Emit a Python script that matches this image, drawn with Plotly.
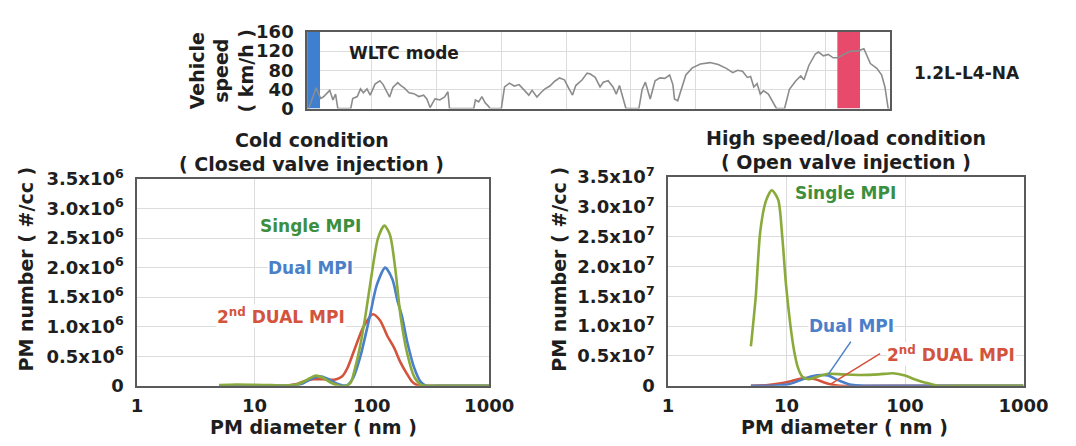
import plotly.graph_objects as go

# ---------------- WLTC vehicle speed trace ----------------
time_s = [0, 5, 28, 42, 50, 70, 80, 88, 95,
          135, 141, 155, 165, 174, 185, 195, 210, 225, 235, 245, 255, 265, 280, 290, 300,
          315, 330, 345, 360, 370, 380, 395, 410, 425, 435, 440,
          515, 520, 530, 540, 550, 560, 565,
          600, 610, 625, 640, 655, 670, 685, 695, 710, 725, 735, 750, 765, 780, 795,
          810, 820, 830, 850, 865, 875, 890, 905, 915, 930, 945, 955, 965, 975, 985,
          1025, 1035, 1045, 1060, 1075, 1090, 1105, 1120, 1130, 1135, 1145, 1155, 1170,
          1190, 1215, 1245, 1270, 1295, 1315, 1330, 1345, 1360, 1370, 1380, 1390, 1400,
          1410, 1425, 1435, 1445, 1450,
          1475, 1490, 1510, 1525, 1535, 1550, 1570, 1580, 1595, 1610, 1625, 1640, 1660,
          1680, 1700, 1720, 1740, 1760, 1775, 1785, 1795, 1800]
speed_kmh = [0, 0, 43, 21, 24, 38, 18, 30, 0,
             0, 21, 25, 41, 33, 41, 28, 51, 58, 50, 38, 24, 44, 54, 48, 43,
             33, 31, 25, 28, 20, 2, 20, 18, 24, 35, 0,
             0, 18, 14, 25, 12, 5, 0,
             0, 45, 53, 47, 50, 38, 28, 38, 24, 35, 41, 47, 57, 64, 60,
             40, 28, 48, 60, 74, 72, 65, 45, 55, 58, 45, 30, 48, 25, 0,
             0, 40, 55, 20, 58, 64, 63, 70, 50, 20, 16, 38, 70,
             85, 93, 96, 92, 84, 75, 80, 78, 65, 67, 45, 52, 30,
             37, 30, 18, 8, 0,
             0, 40, 58, 68, 60, 90, 114, 118, 110, 113, 106, 106, 114,
             120, 120, 125, 94, 84, 70, 45, 0, 0]
speed_ticks = [0, 40, 80, 120, 160]
cold_window_s = [0, 40]
hot_window_s = [1638, 1708]

# ---------------- PM size distributions: cold start (x10^6 #/cc) ----------------
cold_single_d = [5, 7, 10, 14, 18, 23, 28, 33, 38, 45, 52, 60, 66, 72, 80, 88, 100,
                 113, 128, 143, 158, 176, 200, 230, 260, 285, 400, 1000]
cold_single_n = [0.01, 0.02, 0.015, 0.01, 0.005, 0.02, 0.1, 0.17, 0.14, 0.05, 0.005, 0.0,
                 0.05, 0.3, 0.7, 1.17, 1.9, 2.5, 2.71, 2.55, 2.0, 1.17, 0.55, 0.15, 0.02,
                 0.0, 0.0, 0.0]
cold_dual_d = [5, 10, 15, 20, 25, 30, 36, 42, 50, 57, 62, 70, 80, 96, 110, 130, 150,
               165, 181, 200, 230, 260, 290, 400, 1000]
cold_dual_n = [0.0, 0.0, 0.0, 0.005, 0.03, 0.11, 0.16, 0.12, 0.04, 0.005, 0.01, 0.15,
               0.5, 1.17, 1.7, 2.0, 1.8, 1.45, 1.17, 0.75, 0.3, 0.07, 0.0, 0.0, 0.0]
cold_2nd_d = [5, 10, 15, 19, 23, 28, 32, 38, 44, 50, 56, 62, 72, 85, 102, 118, 135,
              155, 175, 198, 220, 245, 270, 500, 1000]
cold_2nd_n = [0.0, 0.0, 0.0, 0.005, 0.03, 0.09, 0.11, 0.11, 0.1, 0.11, 0.16, 0.3, 0.64,
              1.0, 1.21, 1.1, 0.85, 0.64, 0.4, 0.21, 0.07, 0.01, 0.0, 0.0, 0.0]

# ---------------- PM size distributions: high speed/load (x10^7 #/cc) ----------------
hot_single_d = [5, 5.5, 6.0, 6.7, 7.5, 8.5, 9.2, 9.9, 10.8, 11.6, 12.5, 13.6, 15.4, 18,
                22.5, 30, 42, 60, 79, 100, 120, 149, 190, 300, 1000]
hot_single_n = [0.66, 1.5, 2.59, 3.1, 3.28, 3.12, 2.5, 1.69, 1.0, 0.58, 0.3, 0.15, 0.11,
                0.15, 0.2, 0.19, 0.18, 0.19, 0.21, 0.17, 0.11, 0.05, 0.0, 0.0, 0.0]
hot_dual_d = [5, 8, 10.6, 13, 16.4, 20, 22.5, 26, 29, 33, 37, 45, 100, 1000]
hot_dual_n = [0.0, 0.005, 0.03, 0.09, 0.16, 0.18, 0.17, 0.11, 0.07, 0.03, 0.01, 0.0,
              0.0, 0.0]
hot_2nd_d = [5, 7, 9, 10.6, 12.5, 14.5, 17.5, 20.5, 24, 28, 100, 1000]
hot_2nd_n = [0.0, 0.01, 0.04, 0.07, 0.11, 0.13, 0.11, 0.06, 0.02, 0.0, 0.0, 0.0]

diam_ticks = [1, 10, 100, 1000]
pm_ticks = [0, 0.5, 1.0, 1.5, 2.0, 2.5, 3.0, 3.5]

GREEN = "#8aab3c"
GREEN_TXT = "#3d8f3f"
BLUE = "#4b80c9"
RED = "#d4533d"
GRID = "#dcdcdc"
AXIS = "#5a5a5a"
INK = "#1e1e1e"
FONT = "DejaVu Sans"

W, H = 1076, 446


def px(x):
    return x / W


def py(y):
    return 1 - y / H


def pm_ticktext(exp):
    out = []
    for v in pm_ticks:
        out.append("0" if v == 0 else f"{v:.1f}x10<sup>{exp}</sup>")
    return out


fig = go.Figure()

# speed trace
fig.add_trace(go.Scatter(x=time_s, y=speed_kmh, mode="lines",
                         line=dict(color="#8c8c8c", width=1.6),
                         xaxis="x", yaxis="y", hoverinfo="skip"))

# cold-start distributions
for d, n, c in [(cold_2nd_d, cold_2nd_n, RED), (cold_dual_d, cold_dual_n, BLUE),
                (cold_single_d, cold_single_n, GREEN)]:
    fig.add_trace(go.Scatter(x=d, y=n, mode="lines",
                             line=dict(color=c, width=2.6, shape="spline", smoothing=0.7),
                             xaxis="x2", yaxis="y2"))

# high speed/load distributions
for d, n, c in [(hot_2nd_d, hot_2nd_n, RED), (hot_dual_d, hot_dual_n, BLUE),
                (hot_single_d, hot_single_n, GREEN)]:
    fig.add_trace(go.Scatter(x=d, y=n, mode="lines",
                             line=dict(color=c, width=2.6, shape="spline", smoothing=0.7),
                             xaxis="x3", yaxis="y3"))

# leader lines from the labels to the small modes
fig.add_trace(go.Scatter(x=[34.9, 22.5], y=[0.74, 0.19], mode="lines",
                         line=dict(color=BLUE, width=1.5), xaxis="x3", yaxis="y3"))
fig.add_trace(go.Scatter(x=[61.5, 23.2], y=[0.54, 0.02], mode="lines",
                         line=dict(color=RED, width=1.5), xaxis="x3", yaxis="y3"))

axis_common = dict(showgrid=True, gridcolor=GRID, gridwidth=1, showline=True,
                   linecolor=AXIS, linewidth=1.6, mirror=True, zeroline=False,
                   ticks="", fixedrange=True)

fig.update_layout(
    width=W, height=H,
    margin=dict(l=0, r=0, t=0, b=0),
    paper_bgcolor="white", plot_bgcolor="white",
    showlegend=False,
    font=dict(family=FONT, size=18, color=INK, weight="bold"),
    xaxis=dict(domain=[px(310), px(910)], range=[0, 1800], anchor="y",
               tickvals=list(range(0, 1801, 200)), showticklabels=False, **axis_common),
    yaxis=dict(domain=[py(100.7), py(20)], range=[0, 160], anchor="x",
               tickvals=speed_ticks, ticklabelstandoff=8, **axis_common),
    xaxis2=dict(domain=[px(135), px(497.5)], type="log", range=[0, 3], anchor="y2",
                tickvals=diam_ticks, ticktext=[str(v) for v in diam_ticks],
                ticklabelstandoff=3, **axis_common),
    yaxis2=dict(domain=[py(393), py(175)], range=[0, 3.5], anchor="x2",
                tickvals=pm_ticks, ticktext=pm_ticktext(6), ticklabelstandoff=8,
                **axis_common),
    xaxis3=dict(domain=[px(681.7), px(1047.7)], type="log", range=[0, 3], anchor="y3",
                tickvals=diam_ticks, ticktext=[str(v) for v in diam_ticks],
                ticklabelstandoff=3, **axis_common),
    yaxis3=dict(domain=[py(393), py(173)], range=[0, 3.5], anchor="x3",
                tickvals=pm_ticks, ticktext=pm_ticktext(7), ticklabelstandoff=8,
                **axis_common),
)

# driving-mode windows on the speed trace
fig.add_shape(type="rect", xref="x", yref="y", x0=cold_window_s[0], x1=cold_window_s[1],
              y0=0, y1=160, fillcolor="#3f7fd0", line=dict(width=0), layer="between")
fig.add_shape(type="rect", xref="x", yref="y", x0=hot_window_s[0], x1=hot_window_s[1],
              y0=0, y1=160, fillcolor="#e84a6c", line=dict(width=0), layer="between")


def label(x, y, text, size=19, color=INK, angle=0, bg=None):
    fig.add_annotation(x=px(x), y=py(y), xref="paper", yref="paper", text=text,
                       showarrow=False, textangle=angle, xanchor="center",
                       yanchor="middle", bgcolor=bg, borderpad=0,
                       font=dict(family=FONT, size=size, color=color, weight="bold"))


label(410, 42, "WLTC mode", size=17)
label(989, 63, "1.2L-L4-NA", size=17)
label(222, 61, "Vehicle<br>speed<br>( km/h )", size=19, angle=-90)

label(315, 134, "Cold condition")
label(315, 159, "( Closed valve injection )")
label(865, 132, "High speed/load condition")
label(865, 157, "( Open valve injection )")

label(317, 437, "PM diameter ( nm )")
label(863, 437, "PM diameter ( nm )")
label(21, 270, "PM number ( #/cc )", angle=-90)
label(569, 270, "PM number ( #/cc )", angle=-90)

# series labels
label(314, 225, "Single MPI", size=17, color=GREEN_TXT, bg="white")
label(314, 269, "Dual MPI", size=17, color=BLUE, bg="white")
label(283, 320, "2<sup>nd</sup> DUAL MPI", size=17, color=RED, bg="white")
label(864, 190, "Single MPI", size=17, color=GREEN_TXT, bg="white")
label(871, 330, "Dual MPI", size=17, color=BLUE, bg="white")
label(973, 360, "2<sup>nd</sup> DUAL MPI", size=17, color=RED, bg="white")

fig.write_html("out.html")
